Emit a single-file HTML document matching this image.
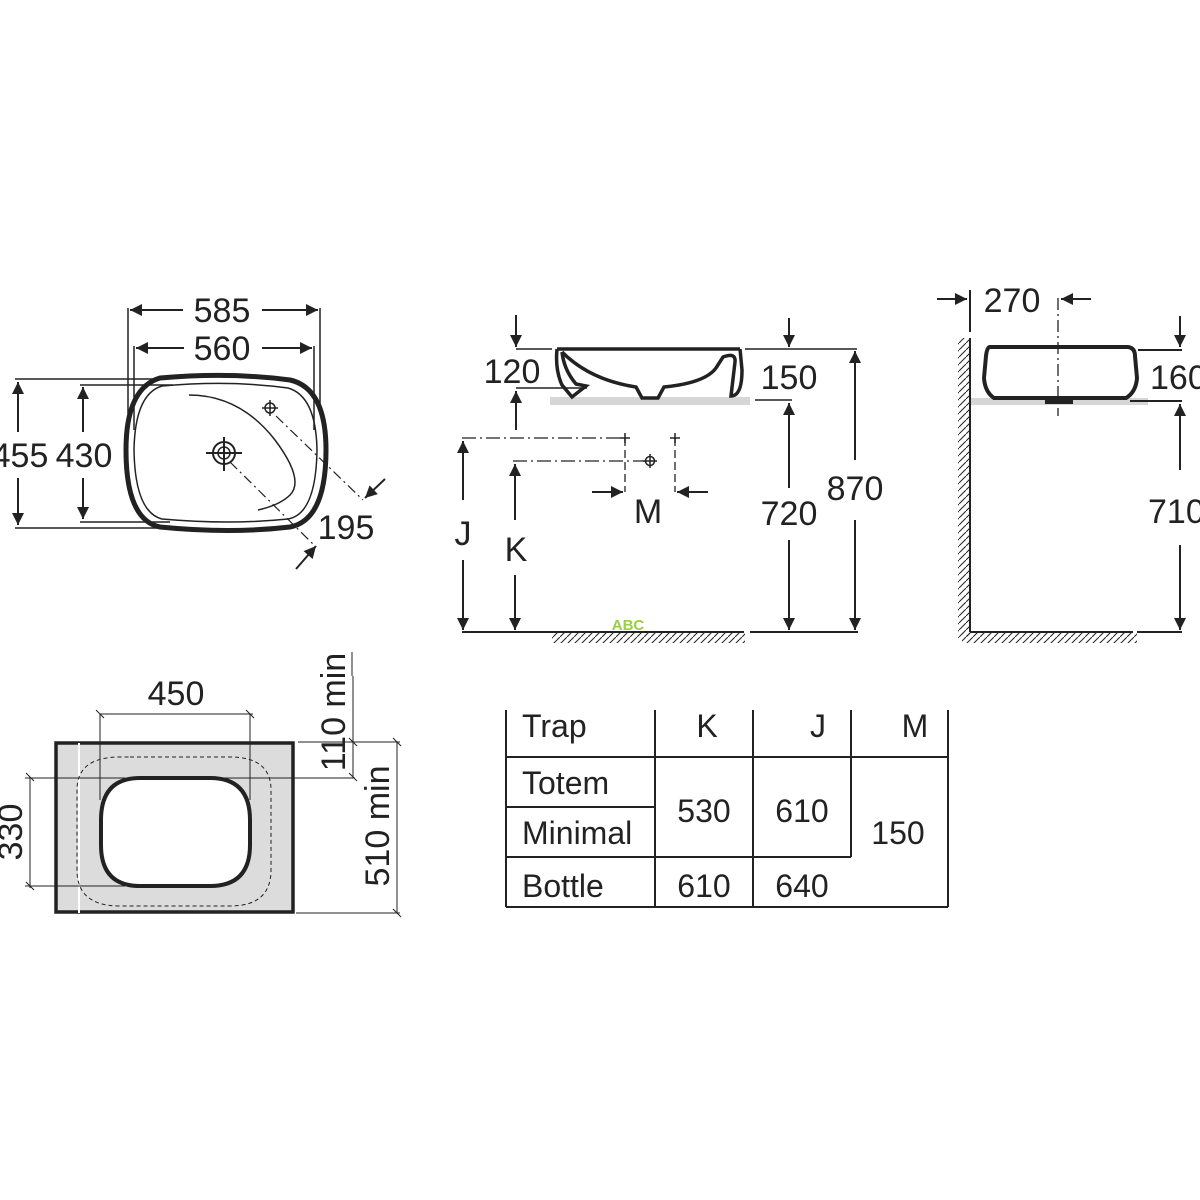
<!DOCTYPE html>
<html><head><meta charset="utf-8"><style>
html,body{margin:0;padding:0;background:#fff;}
svg{display:block;}
text{font-family:"Liberation Sans",sans-serif;fill:#222;}
</style></head><body>
<svg width="1200" height="1200" viewBox="0 0 1200 1200" xmlns="http://www.w3.org/2000/svg">
<defs>
<marker id="a" viewBox="0 0 10 10" refX="10" refY="5" markerWidth="16" markerHeight="12" markerUnits="userSpaceOnUse" orient="auto"><path d="M0,0L10,5L0,10z" fill="#222"/></marker>
<pattern id="h" width="7" height="7" patternUnits="userSpaceOnUse"><path d="M-1,8L8,-1" stroke="#222" stroke-width="1"/></pattern>
</defs>
<g stroke="#222" stroke-width="2" fill="none">
<!-- ===== Top-left plan view ===== -->
<path d="M160,378 Q230,372 290,380 Q326,388 326,450 Q326,520 290,527 Q230,534 160,527 Q126,520 126,450 Q126,388 160,378Z" stroke-width="5"/>
<path d="M162,386 Q230,380 288,388 Q316,396 317,450 Q316,514 288,519 Q230,525 162,519 Q135,512 134,450 Q135,394 162,386Z" stroke-width="1.5"/>
<path d="M189,395 Q240,395 275,440 Q305,480 290,495 Q280,505 258,510" stroke-width="1.5"/>
<circle cx="224" cy="453" r="11"/><circle cx="224" cy="453" r="6" stroke-width="1.5"/>
<path d="M206,453H242M224,437V471" stroke-width="2"/>
<circle cx="270" cy="408" r="5" stroke-width="1.5"/><path d="M262,408H278M270,400V416" stroke-width="1.5"/>
<path d="M230,462L314,545M276,416L363,500" stroke-width="1.2" stroke-dasharray="10,4,2,4"/>
<path d="M385,479L365,498" marker-end="url(#a)"/>
<path d="M296,569L316,546" marker-end="url(#a)"/>
<path d="M128,308V414M320,308V414M134,346V430M314,346V430" stroke-width="1.5"/>
<path d="M183,310H130" marker-end="url(#a)"/>
<path d="M262,310H318" marker-end="url(#a)"/>
<path d="M184,348H136" marker-end="url(#a)"/>
<path d="M262,348H312" marker-end="url(#a)"/>
<path d="M15,379H157M15,528H157M80,385H173M80,522H170" stroke-width="1.5"/>
<path d="M18,432V382" marker-end="url(#a)"/>
<path d="M18,478V525" marker-end="url(#a)"/>
<path d="M83,432V387" marker-end="url(#a)"/>
<path d="M83,478V519" marker-end="url(#a)"/>

<!-- ===== Top-middle side view ===== -->
<rect x="550" y="397" width="200" height="8" fill="#d6d6d6" stroke="none"/>
<path d="M557,349H740" stroke-width="3.5"/>
<path d="M557,349 Q555,370 562,385 L572,397 L586,386 L576,384 Q564,370 562,352" stroke-width="3.5"/>
<path d="M562,352 Q590,380 636,387 L642,398 H658 L664,387 Q705,383 716,368 L723,357 Q736,352 735,362 L731,396 Q742,396 742,370 L740,349" stroke-width="3.5"/>
<path d="M516,349H552M516,388H587M745,349H857M755,400H792" stroke-width="1.5"/>
<path d="M516,315V347" marker-end="url(#a)"/>
<path d="M516,430V391" marker-end="url(#a)"/>
<path d="M789,318V347" marker-end="url(#a)"/>
<path d="M855,460V351" marker-end="url(#a)"/>
<path d="M855,520V630" marker-end="url(#a)"/>
<path d="M789,488V403" marker-end="url(#a)"/>
<path d="M789,540V630" marker-end="url(#a)"/>
<path d="M462,632H744M750,632H858" stroke-width="2"/>
<rect x="552" y="633" width="193" height="10" fill="url(#h)" stroke="none"/>
<path d="M462,438H625M513,461H650" stroke-width="1.3" stroke-dasharray="14,4,2,4"/>
<path d="M625,438V492M675,438V492" stroke-width="1.3" stroke-dasharray="8,4"/>
<path d="M620,438H630M625,433V443M670,438H680M675,433V443M643,461H657M650,454V468" stroke-width="1.5"/>
<circle cx="650" cy="461" r="4.5" stroke-width="1.5"/>
<path d="M592,492H623" marker-end="url(#a)"/>
<path d="M708,492H677" marker-end="url(#a)"/>
<path d="M463,500V441" marker-end="url(#a)"/>
<path d="M463,560V630" marker-end="url(#a)"/>
<path d="M515,520V464" marker-end="url(#a)"/>
<path d="M515,575V630" marker-end="url(#a)"/>

<!-- ===== Top-right view ===== -->
<rect x="970" y="398" width="178" height="7" fill="#d6d6d6" stroke="none"/>
<path d="M990,347H1128 Q1135,348 1135,356 L1137,378 Q1136,392 1126,398 H994 Q985,392 984,378 L986,356 Q987,347 990,347Z" stroke-width="4"/>
<rect x="1045" y="398" width="28" height="6" fill="#222" stroke="none"/>
<path d="M970,290V332M970,338V632M970,632H1133M1138,350H1182M1130,401H1182M1137,632H1182" stroke-width="2"/>
<rect x="958" y="338" width="12" height="300" fill="url(#h)" stroke="none"/>
<rect x="962" y="633" width="175" height="10" fill="url(#h)" stroke="none"/>
<path d="M1058,298V416" stroke-width="1.3" stroke-dasharray="12,4,2,4"/>
<path d="M937,299H967" marker-end="url(#a)"/>
<path d="M1091,299H1061" marker-end="url(#a)"/>
<path d="M1180,316V347" marker-end="url(#a)"/>
<path d="M1180,470V404" marker-end="url(#a)"/>
<path d="M1180,545V630" marker-end="url(#a)"/>

<!-- ===== Bottom-left cutout ===== -->
<rect x="56" y="743" width="237" height="169" fill="#dcdcdc" stroke-width="3.5"/>
<path d="M79,743V913" stroke="#fff" stroke-width="2"/>
<path d="M130,757H230Q271,757 271,790V870Q271,906 230,906H120Q77,906 77,870V790Q77,757 120,757Z" stroke-width="1" stroke-dasharray="4,3"/>
<path d="M140,778H210Q250,778 250,820V845Q250,886 210,886H140Q101,886 101,845V820Q101,778 140,778Z" fill="#fff" stroke-width="4"/>
<path d="M100,714H253M100,714V800M250,714V800M30,777V888M25,778H125M220,778H355M25,886H125M298,742H400M296,913H400M352,652V676M353,676V777M397,742V913" stroke-width="1"/>
<path d="M96,710L104,718M246,710L254,718M26,773L34,781M26,882L34,890M349,773L357,781M349,738L357,746M393,738L401,746M393,909L401,917" stroke-width="1"/>

<!-- ===== Table ===== -->
<path d="M506,710V907M655,710V907M753,710V907M851,710V857M948,710V907M506,757H948M506,807H655M506,857H851M506,907H948" stroke-width="2"/>
</g>

<g font-size="34">
<text x="222" y="322" text-anchor="middle">585</text>
<text x="222" y="360" text-anchor="middle">560</text>
<text x="20" y="467" text-anchor="middle">455</text>
<text x="84" y="467" text-anchor="middle">430</text>
<text x="346" y="539" text-anchor="middle">195</text>
<text x="512" y="383" text-anchor="middle">120</text>
<text x="789" y="389" text-anchor="middle">150</text>
<text x="789" y="525" text-anchor="middle">720</text>
<text x="855" y="500" text-anchor="middle">870</text>
<text x="648" y="523" text-anchor="middle">M</text>
<text x="463" y="545" text-anchor="middle">J</text>
<text x="516" y="561" text-anchor="middle">K</text>
<text x="1012" y="312" text-anchor="middle">270</text>
<text x="1150" y="389">160</text>
<text x="1148" y="523">710</text>
<text x="176" y="705" text-anchor="middle">450</text>
<text transform="translate(22,832) rotate(-90)" text-anchor="middle">330</text>
<text transform="translate(345,712) rotate(-90)" text-anchor="middle">110 min</text>
<text transform="translate(389,826) rotate(-90)" text-anchor="middle">510 min</text>
</g>
<text x="628" y="630" text-anchor="middle" font-size="15" font-weight="bold" style="fill:#9acd4a">ABC</text>
<g font-size="32">
<text x="522" y="737">Trap</text>
<text x="707" y="737" text-anchor="middle">K</text>
<text x="818" y="737" text-anchor="middle">J</text>
<text x="915" y="737" text-anchor="middle">M</text>
<text x="522" y="794">Totem</text>
<text x="522" y="844">Minimal</text>
<text x="522" y="897">Bottle</text>
<text x="704" y="822" text-anchor="middle">530</text>
<text x="802" y="822" text-anchor="middle">610</text>
<text x="898" y="844" text-anchor="middle">150</text>
<text x="704" y="897" text-anchor="middle">610</text>
<text x="802" y="897" text-anchor="middle">640</text>
</g>
</svg>
</body></html>
